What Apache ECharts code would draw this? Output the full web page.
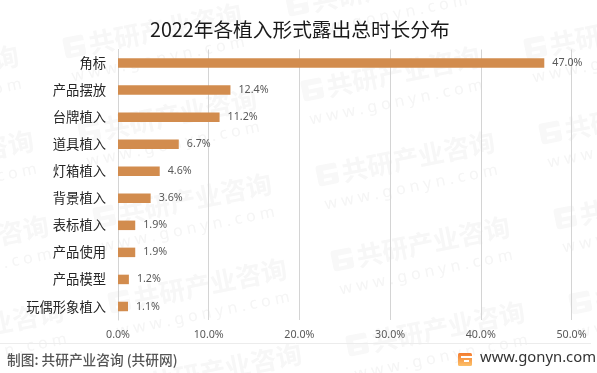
<!DOCTYPE html>
<html>
<head>
<meta charset="utf-8">
<style>
    html, body { margin: 0; padding: 0; background: #fff; }
    #chart { width: 597px; height: 373px; }
</style>
<script src="https://cdn.jsdelivr.net/npm/echarts@6/dist/echarts.min.js"></script>
</head>
<body>
<div id="chart"></div>
<script>
const categories = ['角标', '产品摆放', '台牌植入', '道具植入', '灯箱植入', '背景植入', '表标植入', '产品使用', '产品模型', '玩偶形象植入']
const shareValues = [47.0, 12.4, 11.2, 6.7, 4.6, 3.6, 1.9, 1.9, 1.2, 1.1]
const titleText = '2022年各植入形式露出总时长分布'
const sourceText = '制图: 共研产业咨询 (共研网)'
const siteText = 'www.gonyn.com'

const cjkFont = '"Noto Sans CJK SC", "Noto Sans", sans-serif'
const numFont = '"Noto Sans", "Open Sans", sans-serif'

// 水印
function watermark(x, y) {
    return {
        type: 'group',
        x: x,
        y: y,
        rotation: 0.2,
        silent: true,
        z: -10,
        children: [
            { type: 'rect', shape: { x: -10, y: -11, width: 21, height: 21, r: 3 }, style: { fill: '#f8f8f8' } },
            { type: 'rect', shape: { x: -3, y: -5, width: 14, height: 4 }, style: { fill: '#fff' } },
            { type: 'rect', shape: { x: -4, y: 3, width: 8, height: 3 }, style: { fill: '#fff' } },
            {
                type: 'text',
                x: 15,
                y: 0,
                style: { text: '共研产业咨询', font: 'bold 26px ' + cjkFont, fill: '#f7f7f7', textVerticalAlign: 'middle' }
            },
            {
                type: 'text',
                x: -8,
                y: 29,
                style: { text: 'w w w . g o n y n . c o m', font: '16px ' + numFont, fill: '#f5f5f5', textVerticalAlign: 'middle' }
            }
        ]
    }
}

const watermarkAnchors = []
for (let col = -1; col <= 2; col++) {
    for (let row = -1; row <= 3; row++) {
        watermarkAnchors.push(watermark(89 + 223 * col + 15 * row, 132 - 42 * col + 85 * row))
    }
}

const chart = echarts.init(document.getElementById('chart'), null, { renderer: 'canvas' })
chart.setOption({
    backgroundColor: '#fff',
    animation: false,
    title: {
        text: titleText,
        left: 145,
        top: 15,
        textStyle: { fontFamily: cjkFont, fontSize: 19.7, fontWeight: 'normal', color: '#1a1a1a' }
    },
    grid: { left: 118, right: 25.5, top: 49.5, bottom: 53 },
    xAxis: {
        type: 'value',
        min: 0,
        max: 50,
        interval: 10,
        axisLine: { show: false },
        axisTick: { show: false },
        axisLabel: {
            margin: 9,
            fontFamily: numFont,
            fontSize: 10.7,
            color: '#595959',
            formatter: v => v.toFixed(1) + '%'
        },
        splitLine: { lineStyle: { color: '#d4d4d4', width: 1 } }
    },
    yAxis: {
        type: 'category',
        inverse: true,
        data: categories,
        axisLine: { lineStyle: { color: '#d4d4d4', width: 1 } },
        axisTick: { show: false },
        axisLabel: { margin: 12, fontFamily: cjkFont, fontSize: 13.3, color: '#262626' }
    },
    series: [
        {
            type: 'bar',
            data: shareValues,
            barWidth: 9.5,
            itemStyle: { color: '#D28C4E' },
            label: {
                show: true,
                position: 'right',
                distance: 8,
                fontFamily: numFont,
                fontSize: 10.7,
                color: '#595959',
                formatter: p => p.value.toFixed(1) + '%'
            }
        }
    ],
    graphic: watermarkAnchors.concat([
        { type: 'line', shape: { x1: 0, y1: 343.5, x2: 591, y2: 343.5 }, style: { stroke: '#ececec', lineWidth: 1 }, silent: true },
        {
            type: 'text',
            x: 7,
            y: 360,
            style: { text: sourceText, font: '500 13.7px ' + cjkFont, fill: '#555', textVerticalAlign: 'middle' }
        },
        // 角标logo
        {
            type: 'rect',
            shape: { x: 458, y: 353, width: 14, height: 13, r: 1.5 },
            style: {
                fill: new echarts.graphic.LinearGradient(0, 0, 0, 1, [
                    { offset: 0, color: '#f47b2e' },
                    { offset: 1, color: '#fcc16a' }
                ])
            }
        },
        { type: 'rect', shape: { x: 461, y: 356, width: 11, height: 2 }, style: { fill: '#fff' } },
        { type: 'rect', shape: { x: 464, y: 360, width: 5, height: 2 }, style: { fill: '#fff' } },
        {
            type: 'text',
            x: 480,
            y: 358,
            style: { text: siteText, font: '14.8px ' + numFont, fill: '#333', textVerticalAlign: 'middle' }
        }
    ])
})
</script>
</body>
</html>
